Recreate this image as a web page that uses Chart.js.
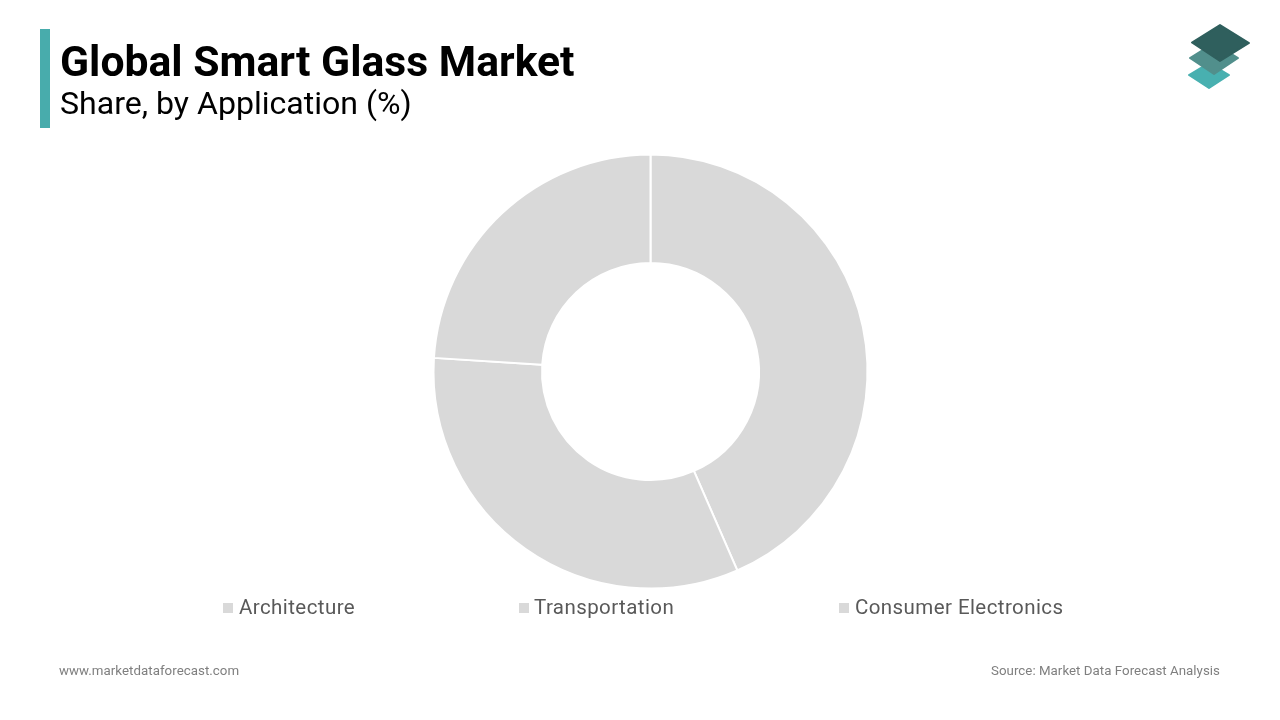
<!DOCTYPE html>
<html><head><meta charset="utf-8">
<script src="https://cdn.jsdelivr.net/npm/chart.js@4"></script>
<style>
html,body{margin:0;padding:0;background:#fff;width:1280px;height:720px;overflow:hidden;font-family:Roboto,sans-serif}
.a{position:absolute;white-space:nowrap}
#wrap{position:absolute;left:0;top:0;width:1280px;height:720px}
.sw{position:absolute;width:10px;height:10px;background:#d9d9d9;top:603px}
.lg{position:absolute;top:594px;font-size:20.5px;line-height:26px;color:#595959;white-space:nowrap;letter-spacing:0.42px}
</style></head><body>
<div id="wrap"><canvas id="c" width="1280" height="720"></canvas></div>
<div class="a" style="left:40px;top:29px;width:10px;height:99px;background:#48acac"></div>
<div class="a" id="t" style="left:60px;top:36px;font-size:42.7px;line-height:50px;font-weight:700;color:#000">Global Smart Glass Market</div>
<div class="a" id="s" style="left:60px;top:83px;font-size:32.1px;line-height:40px;color:#000">Share, by Application (%)</div>
<svg class="a" style="left:1180px;top:20px" width="80" height="75" viewBox="0 0 80 75">
<path d="M29 43 L9 55 L29 68 L49 55 Z" fill="#48b0b0" stroke="#48b0b0" stroke-width="2" stroke-linejoin="round"/>
<path d="M34 23 L10 38 L34 54 L58 38 Z" fill="#518f8c" stroke="#518f8c" stroke-width="2" stroke-linejoin="round"/>
<path d="M40 5 L12 22.5 L40 41 L69 23 Z" fill="#2f5f5d" stroke="#2f5f5d" stroke-width="2" stroke-linejoin="round"/>
</svg>
<div class="sw" style="left:223px"></div><div class="lg" id="l0" style="left:239px"></div>
<div class="sw" style="left:519px"></div><div class="lg" id="l1" style="left:534px"></div>
<div class="sw" style="left:839px"></div><div class="lg" id="l2" style="left:855px"></div>
<div class="a" style="left:59px;top:662px;font-size:13.3px;line-height:18px;color:#7f7f7f;letter-spacing:0.04px">www.marketdataforecast.com</div>
<div class="a" style="right:60px;top:662px;font-size:13.3px;line-height:18px;color:#7f7f7f;letter-spacing:0.03px">Source: Market Data Forecast Analysis</div>
<script>
const categories = ["Architecture", "Transportation", "Consumer Electronics"];
const shareValues = [43.45, 32.55, 24];
const sliceColors = ["#d9d9d9", "#d9d9d9", "#d9d9d9"];
categories.forEach((c,i)=>{document.getElementById("l"+i).textContent=c;});
new Chart(document.getElementById("c"),{
  type:"doughnut",
  data:{labels:categories,datasets:[{data:shareValues,backgroundColor:sliceColors,borderColor:"#ffffff",borderWidth:2,hoverOffset:0}]},
  options:{
    responsive:false,animation:false,devicePixelRatio:1,
    radius:217,cutout:"50%",
    layout:{padding:{left:21,right:0,top:23,bottom:0}},
    plugins:{legend:{display:false},tooltip:{enabled:false},title:{display:false}}
  }
});
</script>
</body></html>
